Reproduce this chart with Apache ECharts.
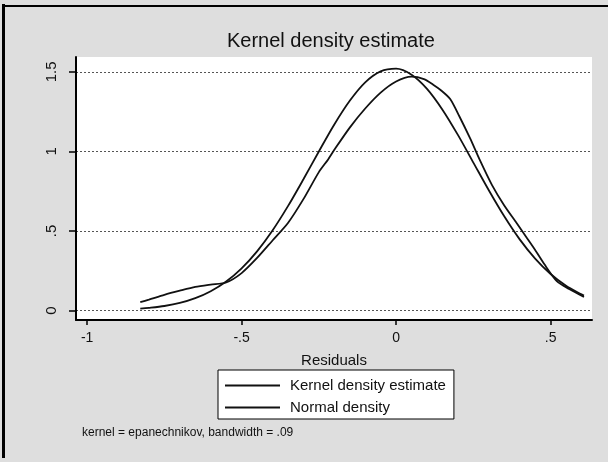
<!DOCTYPE html>
<html>
<head>
<meta charset="utf-8">
<script src="https://cdn.jsdelivr.net/npm/echarts@6/dist/echarts.min.js"></script>
<style>
html,body{margin:0;padding:0;background:#dedede;}
#chart{width:608px;height:462px;}
</style>
</head>
<body>
<div id="chart"></div>
<script>
// Kernel density estimate
var kernelX = [-0.828, -0.80, -0.75, -0.70, -0.65, -0.60, -0.55, -0.50, -0.45, -0.40, -0.35, -0.30, -0.25, -0.22, -0.20, -0.15, -0.10, -0.05, 0.00, 0.05, 0.09, 0.12, 0.145, 0.175, 0.205, 0.24, 0.27, 0.31, 0.35, 0.39, 0.42, 0.45, 0.48, 0.52, 0.56, 0.608];
var kernelY = [0.052, 0.068, 0.098, 0.124, 0.148, 0.163, 0.176, 0.235, 0.33, 0.44, 0.55, 0.70, 0.87, 0.95, 1.01, 1.15, 1.27, 1.37, 1.44, 1.47, 1.455, 1.42, 1.385, 1.33, 1.22, 1.08, 0.95, 0.79, 0.66, 0.55, 0.465, 0.38, 0.29, 0.185, 0.135, 0.085];
// Normal density
var normalX = [-0.828, -0.80, -0.75, -0.70, -0.65, -0.60, -0.55, -0.50, -0.45, -0.40, -0.35, -0.30, -0.25, -0.20, -0.15, -0.10, -0.05, 0.00, 0.05, 0.10, 0.15, 0.20, 0.25, 0.30, 0.35, 0.40, 0.45, 0.50, 0.55, 0.60, 0.608];
var normalY = [0.011, 0.016, 0.028, 0.047, 0.077, 0.121, 0.182, 0.265, 0.372, 0.503, 0.656, 0.825, 1.000, 1.170, 1.319, 1.435, 1.504, 1.521, 1.483, 1.394, 1.263, 1.104, 0.930, 0.756, 0.592, 0.447, 0.326, 0.229, 0.155, 0.101, 0.093];
// Tick labels
var xTicks = [-1, -0.5, 0, 0.5];
var xTickLabels = ['-1', '-.5', '0', '.5'];
var yTicks = [0, 0.5, 1, 1.5];
var yTickLabels = ['0', '.5', '1', '1.5'];

function pairs(xs, ys) { return xs.map(function (x, i) { return [x, ys[i]]; }); }
function lbl(ticks, labels) { return function (v) { for (var i = 0; i < ticks.length; i++) { if (Math.abs(ticks[i] - v) < 1e-9) return labels[i]; } return ''; }; }

var FONT = 'Liberation Sans, Arial, sans-serif';
var chart = echarts.init(document.getElementById('chart'), null, {renderer: 'canvas'});
chart.setOption({
  backgroundColor: '#dedede',
  animation: false,
  grid: {left: 76, top: 57, right: 16, bottom: 142, show: true, backgroundColor: '#ffffff', borderWidth: 0},
  xAxis: {
    type: 'value', min: -1.036, max: 0.634,
    name: 'Residuals', nameLocation: 'middle', nameGap: 33,
    nameTextStyle: {fontFamily: FONT, fontSize: 15, color: '#111'},
    axisLine: {show: true, onZero: false, lineStyle: {color: '#000', width: 2}},
    axisTick: {show: true, customValues: xTicks, length: 5, lineStyle: {color: '#000', width: 1.5}},
    axisLabel: {customValues: xTicks, formatter: lbl(xTicks, xTickLabels), margin: 11, fontFamily: FONT, fontSize: 14, color: '#111'},
    splitLine: {show: false}
  },
  yAxis: {
    type: 'value', min: -0.06, max: 1.594,
    axisLine: {show: true, onZero: false, lineStyle: {color: '#000', width: 2}},
    axisTick: {show: true, customValues: yTicks, length: 7, lineStyle: {color: '#000', width: 1.5}},
    axisLabel: {customValues: yTicks, formatter: lbl(yTicks, yTickLabels), rotate: 90, margin: 17, fontFamily: FONT, fontSize: 15, color: '#111'},
    splitLine: {show: true, lineStyle: {color: '#555', width: 1, type: [2, 2]}}
  },
  legend: {
    orient: 'vertical', left: 218, top: 370,
    backgroundColor: '#ffffff', borderColor: '#000', borderWidth: 1,
    padding: [8, 8, 4, 7], itemGap: 7, itemWidth: 55, itemHeight: 2,
    icon: 'rect',
    textStyle: {fontFamily: FONT, fontSize: 15, color: '#111', padding: [0, 0, 0, 5]},
    data: ['Kernel density estimate', 'Normal density']
  },
  series: [
    {name: 'Kernel density estimate', type: 'line', data: pairs(kernelX, kernelY), smooth: 0.25, symbol: 'none', lineStyle: {color: '#111', width: 1.8}, itemStyle: {color: '#111'}},
    {name: 'Normal density', type: 'line', data: pairs(normalX, normalY), smooth: 0.3, symbol: 'none', lineStyle: {color: '#111', width: 1.8}, itemStyle: {color: '#111'}}
  ],
  graphic: [
    {type: 'text', left: 227, top: 31, style: {text: 'Kernel density estimate', font: '20px ' + FONT, fill: '#111'}},
    {type: 'text', left: 82, top: 427, style: {text: 'kernel = epanechnikov, bandwidth = .09', font: '12px ' + FONT, fill: '#111'}},
    {type: 'rect', shape: {x: 2, y: 4, width: 3, height: 454}, style: {fill: '#000'}},
    {type: 'rect', shape: {x: 2, y: 5, width: 606, height: 2}, style: {fill: '#000'}}
  ]
});
</script>
</body>
</html>
